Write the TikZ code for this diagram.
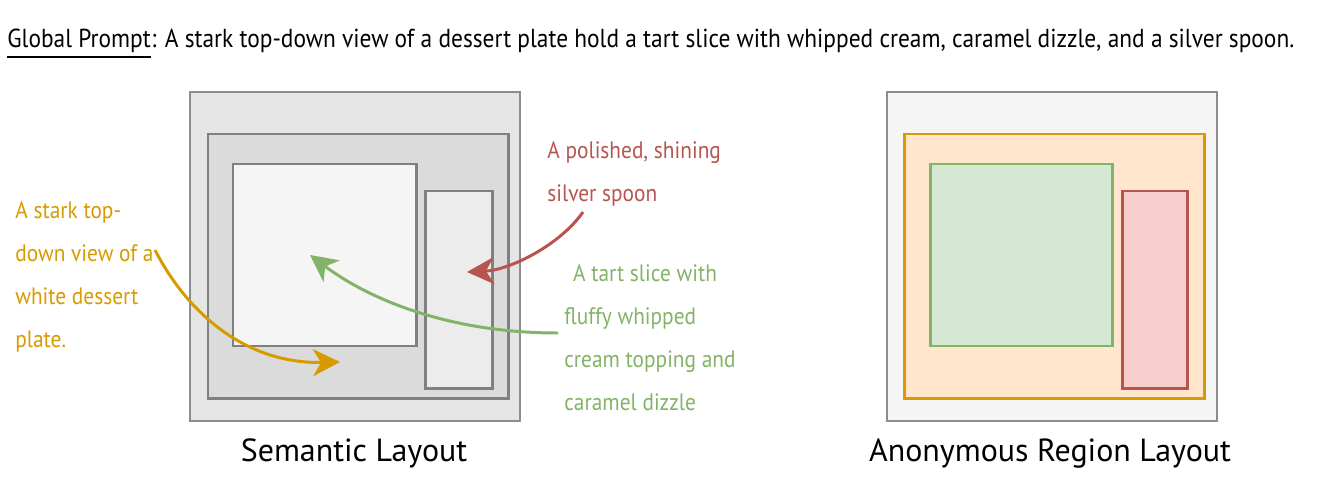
\documentclass[tikz,border=0pt]{standalone}
\usepackage{fontspec}
\setmainfont{PT Sans}[FakeStretch=0.9]
\newfontfamily\captionfont{PT Sans}
\usetikzlibrary{arrows.meta}

\definecolor{plateorange}{HTML}{D79B00}
\definecolor{spoonred}{HTML}{B85450}
\definecolor{tartgreen}{HTML}{82B366}
\definecolor{boxgray}{HTML}{808080}
\definecolor{platefill}{HTML}{FFE6CC}
\definecolor{tartfill}{HTML}{D5E8D4}
\definecolor{spoonfill}{HTML}{F8CECC}

\tikzset{
  note/.style={align=left,anchor=base west,inner sep=0pt,font=\fontsize{13.5}{24.4}\selectfont},
  headline/.style={inner sep=0pt,font=\fontsize{14.8}{16}\selectfont},
  region/.style={line width=1.7pt},
  pointer/.style={line width=1.7pt,-{Stealth[length=5.4mm,width=5.4mm,inset=1.6mm]}},
  caption/.style={anchor=base,inner sep=0pt,font=\captionfont\fontsize{18.2}{20}\selectfont}
}

\begin{document}
\begin{tikzpicture}[x=0.02cm,y=-0.02cm]
\useasboundingbox (0,0) rectangle (1317,480);

% prompt
\node[headline,anchor=base west] (gp) at (7,47) {Global Prompt};
\node[headline,anchor=base west] (prompt) at (gp.base east)
  {: A stark top-down view of a dessert plate hold a tart slice with whipped cream, caramel dizzle, and a silver spoon.};
\draw[line width=1.1pt] ([yshift=-5.5pt]gp.base west) -- ([yshift=-5.5pt]gp.base east);

% semantic layout
\draw [draw=boxgray!90,fill=black!10,line width=0.6pt] (190,92) rectangle (520,421);
\draw [region,draw=boxgray,fill=black!14] (208,134) rectangle (508,398);
\draw [region,draw=boxgray,fill=black!4] (233,164) rectangle (416,346);
\draw [region,draw=boxgray,fill=black!7.5] (425,191) rectangle (492,388);

% (base anchor = last line)
\node[note,text=plateorange] (platetxt) at (15,347)
  {A stark top-\\down view of a\\white dessert\\plate.};
\node[note,text=spoonred] (spoontxt) at (547,201)
  {A polished, shining\\silver spoon};
\node[note,text=tartgreen] (tarttxt) at (564,410)
  {\hspace{5pt}A tart slice with\\fluffy whipped\\cream topping and\\caramel dizzle};

\coordinate (platefrom) at (155,250);
\coordinate (plateto) at (340,362);
\coordinate (spoonfrom) at (583,212);
\coordinate (spoonto) at (467,272);
\coordinate (tartfrom) at (558,333);
\coordinate (tartto) at (310,255);

\draw[pointer,plateorange] (platefrom) .. controls (190,318) and (250,364) .. (plateto);
\draw[pointer,spoonred] (spoonfrom) .. controls (560,245) and (510,270) .. (spoonto);
\draw[pointer,tartgreen] (tartfrom) .. controls (450,333) and (370,300) .. (tartto);

\node[caption] (semcap) at (354,461) {Semantic Layout};

% anonymous layout
\draw [draw=boxgray!90,fill=black!4,line width=0.6pt] (887,92) rectangle (1217,421);
\draw [region,draw=plateorange,fill=platefill] (904,134) rectangle (1204,398);
\draw [region,draw=tartgreen,fill=tartfill] (930,164) rectangle (1112,346);
\draw [region,draw=spoonred,fill=spoonfill] (1122,191) rectangle (1187,388);

\node[caption] (anoncap) at (1050,461) {Anonymous Region Layout};
\end{tikzpicture}
\end{document}
